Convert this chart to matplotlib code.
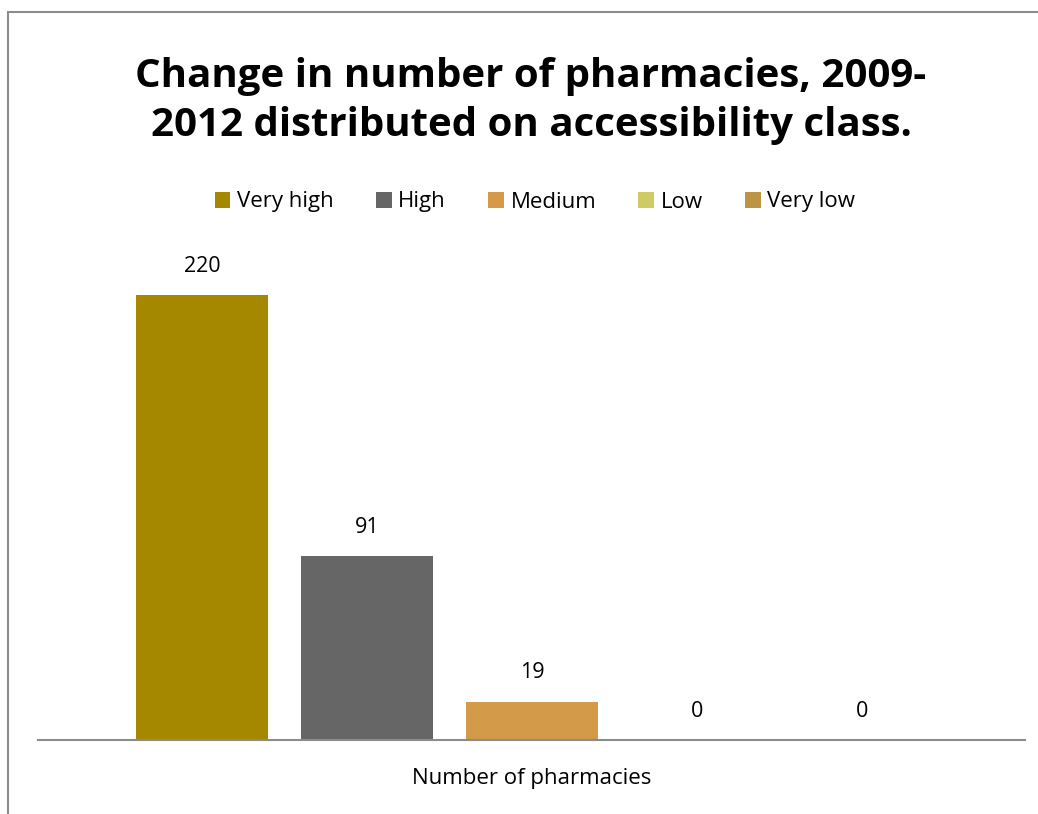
import matplotlib.pyplot as plt
from matplotlib.patches import Rectangle, Patch

# data
classes = ['Very high', 'High', 'Medium', 'Low', 'Very low']
values = [220, 91, 19, 0, 0]
colors = ['#A68800', '#666666', '#D39A4A', '#CFCB63', '#BC9444']

plt.rcParams['font.family'] = ['Open Sans', 'DejaVu Sans']

fig = plt.figure(figsize=(10.38, 8.14), dpi=100)
W, H = 1038, 814

# chart border (runs off the right and bottom edge)
fig.patches.append(Rectangle((8 / W, -0.1), 1.2, 1 - 12 / H + 0.1, transform=fig.transFigure,
                             fill=False, edgecolor='#8c8c8c', linewidth=1.5))

# axes: x 38..1025 px, baseline at y=740, top at ~234
ax = fig.add_axes([38 / W, 1 - 740 / H, (1025 - 38) / W, (740 - 234) / H])
x = list(range(len(classes)))
bars = ax.bar(x, values, width=0.8, color=colors)
for xi, v in zip(x, values):
    ax.text(xi, v + 9, str(v), ha='center', va='bottom', fontsize=15.5)

ax.set_xlim(-0.994, 4.988)
ax.set_ylim(0, 250)
for s in ['top', 'right', 'left']:
    ax.spines[s].set_visible(False)
ax.spines['bottom'].set_color('#8c8c8c')
ax.spines['bottom'].set_linewidth(1.5)
ax.set_yticks([])
ax.set_xticks([])
ax.set_xlabel('Number of pharmacies', fontsize=16, labelpad=20)

fig.text(531 / W, 1 - 101 / H, 'Change in number of pharmacies, 2009-\n2012 distributed on accessibility class.',
         ha='center', va='center', fontsize=29, fontweight='bold', linespacing=1.35)

handles = [Patch(facecolor=c, label=l) for c, l in zip(colors, classes)]
fig.legend(handles=handles, loc='center', bbox_to_anchor=(535 / W, 1 - 202 / H), ncol=5,
           frameon=False, fontsize=16, handlelength=0.7, handleheight=0.7,
           handletextpad=0.3, columnspacing=1.9)

plt.savefig('out.png', dpi=100)
